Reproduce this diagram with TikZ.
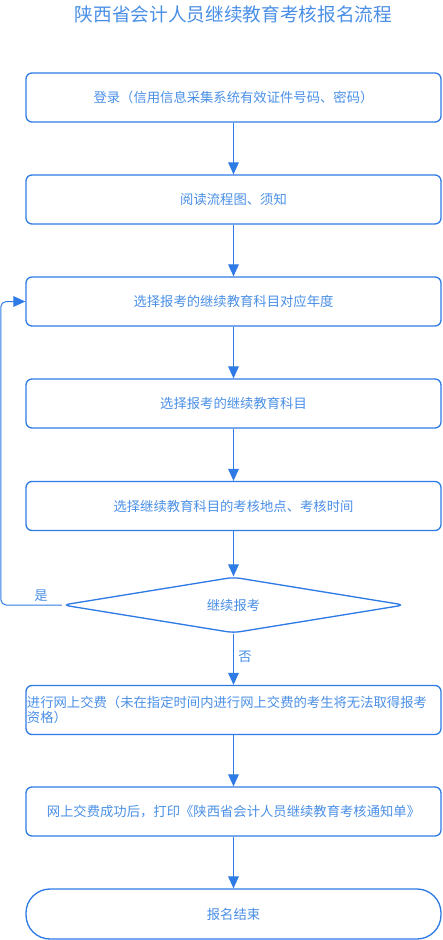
\documentclass[tikz,border=0pt]{standalone}
\usepackage{fontspec}
\setmainfont{Noto Sans CJK SC}
\usepackage{xcolor}
\usetikzlibrary{arrows.meta,positioning,calc,shapes.geometric}
\definecolor{flowline}{HTML}{2F7BE5}
\definecolor{flowtext}{HTML}{4A8FE6}

\begin{document}
\begin{tikzpicture}[
    x=0.75pt, y=-0.75pt,
    box/.style={draw=flowline, line width=1pt, rounded corners=4.5pt, minimum width=311.25pt, minimum height=36.75pt, align=center, text=flowtext, font=\fontsize{10}{11.7}\selectfont},
    decide/.style={draw=flowline, line width=1pt, diamond, shape aspect=6, rounded corners=5pt, minimum width=256.5pt, minimum height=42pt, inner sep=0pt, text=flowtext, font=\fontsize{10}{11.7}\selectfont},
    term/.style={box, rounded corners=18pt, minimum height=37.5pt},
    lbl/.style={text=flowtext, font=\fontsize{10}{11.7}\selectfont},
    arr/.style={-{Triangle[length=9pt, width=8pt]}, line width=0.75pt, draw=flowline},
]
    \useasboundingbox (0,0) rectangle (443,940);

    % Title
    \node[text=flowtext, font=\fontsize{14}{16}\selectfont] (title) at (233.5, 14) {陕西省会计人员继续教育考核报名流程};

    % Steps
    \node[box] (login) at (233.5, 97.5) {登录（信用信息采集系统有效证件号码、密码）};
    \node[box] (readme) at (233.5, 199.5) {阅读流程图、须知};
    \node[box] (selyear) at (233.5, 301.5) {选择报考的继续教育科目对应年度};
    \node[box] (selsubj) at (233.5, 403.5) {选择报考的继续教育科目};
    \node[box] (selplace) at (233.5, 506) {选择继续教育科目的考核地点、考核时间};

    % Decision
    \node[decide] (cont) at (233.5, 605) {继续报考};

    % Payment and print
    \node[box] (pay) at (233.5, 710) {};
    \node[lbl, anchor=west, align=left, inner sep=1pt] (paytext) at (pay.west) {进行网上交费（未在指定时间内进行网上交费的考生将无法取得报考\\资格）};
    \node[box] (printnote) at (233.5, 811.5) {网上交费成功后，打印《陕西省会计人员继续教育考核通知单》};
    \node[term] (finish) at (233.5, 914) {报名结束};

    % Arrows
    \draw[arr] (login) -- (readme);
    \draw[arr] (readme) -- (selyear);
    \draw[arr] (selyear) -- (selsubj);
    \draw[arr] (selsubj) -- (selplace);
    \draw[arr] (selplace) -- (cont);
    \draw[arr] (cont) -- node[lbl, right, pos=0.45]{否} (pay);
    \draw[arr] (pay) -- (printnote);
    \draw[arr] (printnote) -- (finish);
    \draw[arr, rounded corners=4pt] (cont.west) -- node[lbl, above, pos=0.34, yshift=-1pt]{是} ++(-61,0) |- (selyear.west);
\end{tikzpicture}
\end{document}
